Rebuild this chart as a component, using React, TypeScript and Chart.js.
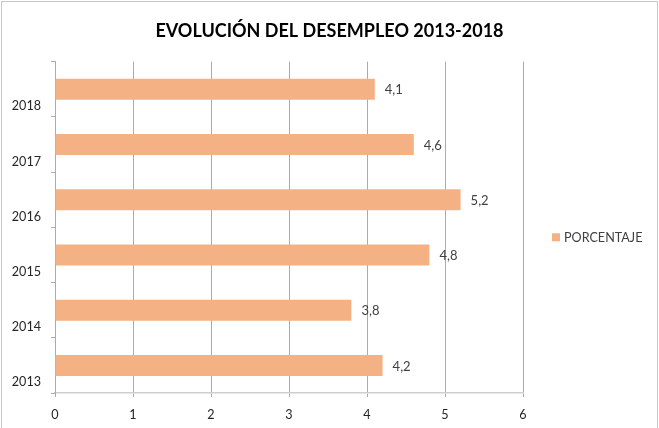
import React, { useEffect, useRef } from "react";
import { Chart, registerables } from "chart.js";

Chart.register(...registerables);

// Unemployment rate by year
const years = ["2013", "2014", "2015", "2016", "2017", "2018"];
const porcentaje = [4.2, 3.8, 4.8, 5.2, 4.6, 4.1];
const xTickValues = [0, 1, 2, 3, 4, 5, 6];
const seriesName = "PORCENTAJE";
const chartTitle = "EVOLUCIÓN DEL DESEMPLEO 2013-2018";

const FONT = "Lato, 'Open Sans', sans-serif";
const BAR_COLOR = "#F4B183";
const GRID_COLOR = "#ABABAB";
const LABEL_COLOR = "#404040";

// Value labels to the right of every bar, using a decimal comma
const valueLabels = {
  id: "valueLabels",
  afterDatasetsDraw(chart: any) {
    const ctx = chart.ctx;
    const meta = chart.getDatasetMeta(0);
    const values = chart.data.datasets[0].data as number[];
    ctx.save();
    ctx.font = `13px ${FONT}`;
    ctx.fillStyle = LABEL_COLOR;
    ctx.textAlign = "left";
    ctx.textBaseline = "middle";
    meta.data.forEach((bar: any, i: number) => {
      ctx.fillText(values[i].toFixed(1).replace(".", ","), bar.x + 10, bar.y + 1);
    });
    ctx.restore();
  },
};

// Legend entry on the right side of the plot
const sideLegend = {
  id: "sideLegend",
  afterDraw(chart: any) {
    const { ctx, chartArea } = chart;
    const ds = chart.data.datasets[0];
    const x = chartArea.right + 29;
    const y = (chartArea.top + chartArea.bottom) / 2 + 10;
    ctx.save();
    ctx.fillStyle = ds.backgroundColor;
    ctx.fillRect(x, y - 4, 8, 8);
    ctx.font = `12.6px ${FONT}`;
    ctx.fillStyle = LABEL_COLOR;
    ctx.textAlign = "left";
    ctx.textBaseline = "middle";
    ctx.fillText(ds.label, x + 12, y + 1);
    ctx.restore();
  },
};

// Light frame around the whole chart
const frame = {
  id: "frame",
  beforeDraw(chart: any) {
    const ctx = chart.ctx;
    ctx.save();
    ctx.fillStyle = "#ffffff";
    ctx.fillRect(0, 0, chart.width, chart.height);
    ctx.strokeStyle = "#C8C8C8";
    ctx.lineWidth = 1;
    ctx.strokeRect(1.5, 1.5, chart.width - 3, chart.height + 10);
    ctx.restore();
  },
};

export default function App() {
  const canvasRef = useRef<HTMLCanvasElement | null>(null);

  useEffect(() => {
    document.body.style.margin = "0";
    const canvas = canvasRef.current;
    if (!canvas) return;
    const chart = new Chart(canvas, {
      type: "bar",
      data: {
        labels: years,
        datasets: [
          {
            label: seriesName,
            data: porcentaje,
            backgroundColor: BAR_COLOR,
            borderWidth: 0,
            barPercentage: 0.38,
            categoryPercentage: 1,
          },
        ],
      },
      options: {
        indexAxis: "y",
        responsive: false,
        animation: false,
        layout: { padding: 0 },
        plugins: {
          legend: { display: false },
          tooltip: { enabled: false },
          title: {
            display: true,
            text: chartTitle,
            color: "#000000",
            font: { family: FONT, size: 18, weight: "bold" },
            padding: { top: 20, bottom: 20 },
          },
        },
        scales: {
          x: {
            type: "linear",
            min: 0,
            max: 6,
            afterBuildTicks(scale: any) {
              scale.ticks = xTickValues.map((v) => ({ value: v }));
            },
            afterFit(scale: any) {
              scale.height = 35;
              scale.paddingLeft = 0;
              scale.paddingRight = 0;
            },
            ticks: {
              color: "#262626",
              font: { family: FONT, size: 12.6 },
              padding: 10,
              callback: (v: any) => String(v),
            },
            grid: {
              color: GRID_COLOR,
              tickLength: 4,
              tickColor: GRID_COLOR,
            },
            border: { display: true, color: "#CFCFCF", width: 1.5 },
          },
          y: {
            type: "category",
            reverse: true,
            afterFit(scale: any) {
              scale.width = 55;
              scale.paddingTop = 0;
              scale.paddingBottom = 0;
            },
            ticks: {
              color: "#262626",
              font: { family: FONT, size: 12.6 },
              padding: 10,
              labelOffset: 17,
            },
            grid: {
              offset: true,
              drawOnChartArea: false,
              drawTicks: true,
              tickLength: 4,
              color: GRID_COLOR,
            },
            border: { display: true, color: GRID_COLOR, width: 1 },
          },
          // empty band on the right that holds the legend
          legendSpace: {
            type: "linear",
            position: "right",
            display: true,
            grid: { display: false, drawTicks: false },
            ticks: { display: false },
            border: { display: false },
            afterFit(scale: any) {
              scale.width = 136;
              scale.paddingTop = 0;
              scale.paddingBottom = 0;
            },
          },
        },
      },
      plugins: [frame, valueLabels, sideLegend],
    });
    return () => chart.destroy();
  }, []);

  return (
    <div style={{ width: 659, height: 428 }}>
      <canvas ref={canvasRef} width={659} height={428} style={{ display: "block" }} />
    </div>
  );
}
